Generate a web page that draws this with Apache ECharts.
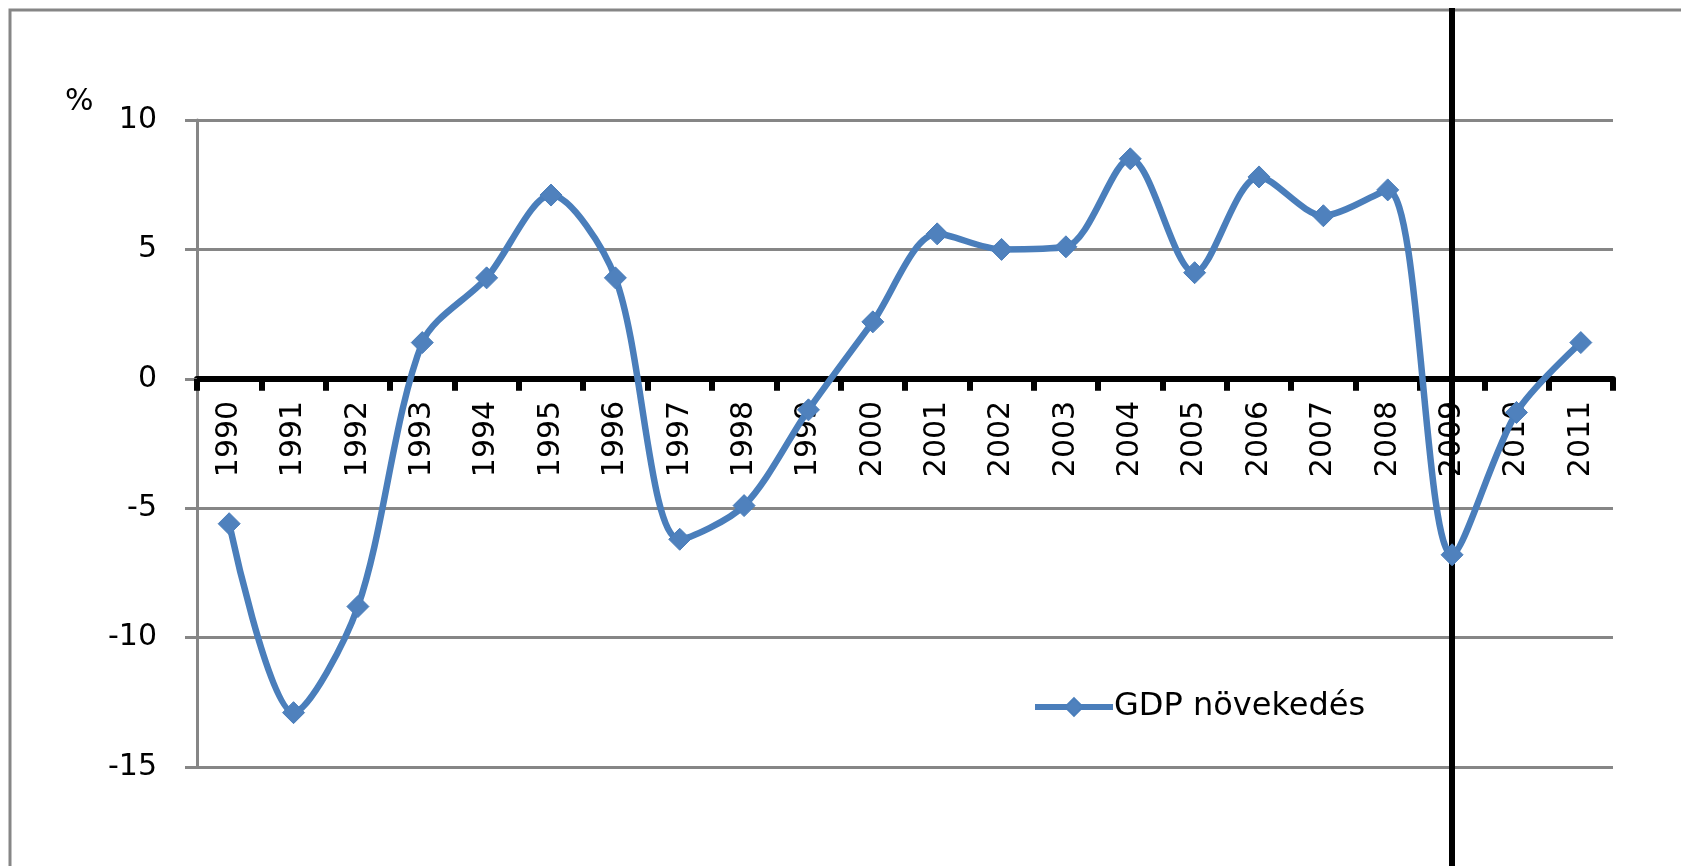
<!DOCTYPE html>
<html>
<head>
<meta charset="utf-8">
<script src="https://cdn.jsdelivr.net/npm/echarts@6/dist/echarts.min.js"></script>
<style>
html,body{margin:0;padding:0;background:#fff;}
#c{width:1681px;height:866px;}
</style>
</head>
<body>
<div id="c"></div>
<script>
const years = ['1990','1991','1992','1993','1994','1995','1996','1997','1998','1999','2000','2001','2002','2003','2004','2005','2006','2007','2008','2009','2010','2011'];
const gdpGrowth = [-5.6, -12.9, -8.8, 1.4, 3.9, 7.1, 3.9, -6.2, -4.9, -1.2, 2.2, 5.6, 5.0, 5.1, 8.5, 4.1, 7.8, 6.3, 7.3, -6.8, -1.3, 1.4];
const seriesName = 'GDP növekedés';
const markYear = '2009';
const yMin = -15, yMax = 10, yStep = 5;

const font = 'DejaVu Sans';
const W = 1681, H = 866;
const gridTop = 120, gridBottom = 99;
const gridHeight = H - gridTop - gridBottom;
// place the category axis on the zero line of the value scale
const zeroOffset = -gridHeight * (0 - yMin) / (yMax - yMin);

const chart = echarts.init(document.getElementById('c'), null, {renderer: 'canvas'});
chart.setOption({
  animation: false,
  backgroundColor: '#fff',
  textStyle: {fontFamily: font},
  graphic: [{
    type: 'rect', z: 0, silent: true,
    shape: {x: 10, y: 10, width: 1720, height: 920},
    style: {fill: 'none', stroke: '#868686', lineWidth: 3}
  }],
  title: {
    text: '%', left: 60, top: 82,
    textStyle: {fontFamily: font, fontSize: 30, fontWeight: 'normal', color: '#000'}
  },
  legend: {
    left: 1027, top: 686,
    itemWidth: 78, itemHeight: 22, itemGap: 10,
    lineStyle: {width: 6, color: '#4A7EBB'},
    textStyle: {fontFamily: font, fontSize: 32, color: '#000', padding: [0, 0, 0, -4]},
    data: [seriesName]
  },
  grid: [
    {left: 197, right: 68, top: gridTop, bottom: gridBottom, containLabel: false},
    {left: 197, right: 68, top: 8, bottom: 0, containLabel: false}
  ],
  xAxis: [{
    type: 'category', gridIndex: 0, data: years, boundaryGap: true,
    position: 'bottom', offset: zeroOffset,
    axisLine: {show: true, onZero: false, lineStyle: {color: '#000', width: 6}},
    axisTick: {show: true, length: 12, inside: false, lineStyle: {color: '#000', width: 6}},
    axisLabel: {rotate: 90, margin: 22, fontFamily: font, fontSize: 30, color: '#000', interval: 0},
    splitLine: {show: false}
  }, {
    type: 'category', gridIndex: 1, data: years, boundaryGap: true, show: false
  }],
  yAxis: [{
    type: 'value', gridIndex: 0, min: yMin, max: yMax, interval: yStep,
    axisLine: {show: true, lineStyle: {color: '#868686', width: 3}},
    axisTick: {show: true, length: 12, lineStyle: {color: '#868686', width: 3}},
    axisLabel: {fontFamily: font, fontSize: 30, color: '#000', margin: 40},
    splitLine: {show: true, lineStyle: {color: '#868686', width: 3}}
  }, {
    type: 'value', gridIndex: 1, show: false, min: 0, max: 1
  }],
  series: [{
    name: seriesName, type: 'line', xAxisIndex: 0, yAxisIndex: 0,
    data: gdpGrowth, smooth: 0.3,
    symbol: 'diamond', symbolSize: 22,
    lineStyle: {color: '#4A7EBB', width: 6.5},
    itemStyle: {color: '#4F81BD', borderColor: '#4A7EBB', borderWidth: 1},
    z: 5
  }, {
    type: 'line', xAxisIndex: 1, yAxisIndex: 1, data: [], silent: true,
    markLine: {
      silent: true, symbol: ['none', 'none'],
      label: {show: false},
      lineStyle: {color: '#000', width: 6, type: 'solid'},
      data: [{xAxis: markYear}]
    },
    z: 6
  }]
});
</script>
</body>
</html>
